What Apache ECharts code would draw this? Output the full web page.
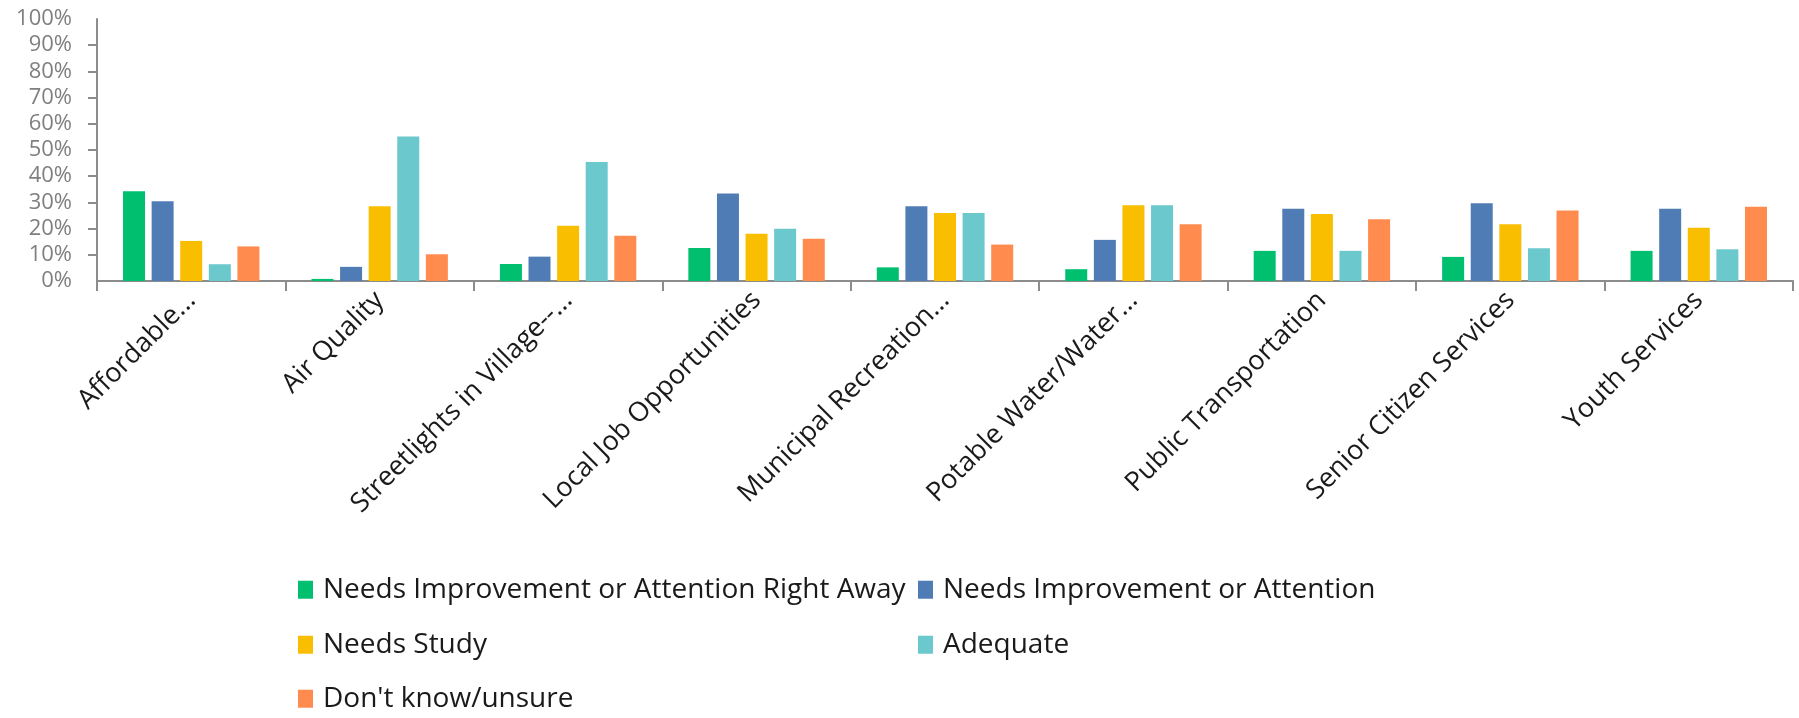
<title>survey chart</title>
<script src="https://cdn.jsdelivr.net/npm/echarts@6/dist/echarts.min.js"></script>
<style>
  html,body{margin:0;padding:0;background:#fff;}
  #main{width:1799px;height:718px;}
</style>
<div id="main"></div>
<script>
  var categories = ['Affordable...', 'Air Quality', 'Streetlights in Village--...', 'Local Job Opportunities',
    'Municipal Recreation...', 'Potable Water/Water...', 'Public Transportation', 'Senior Citizen Services', 'Youth Services'];
  var seriesNames = ['Needs Improvement or Attention Right Away', 'Needs Improvement or Attention',
    'Needs Study', 'Adequate', "Don't know/unsure"];
  var colors = ['#00BF6F', '#507CB6', '#F9BE00', '#6BC8CD', '#FF8B4F'];
  // percent values
  var rightAway = [34.3, 0.8, 6.5, 12.6, 5.2, 4.5, 11.5, 9.2, 11.5];
  var attention = [30.4, 5.4, 9.3, 33.4, 28.5, 15.7, 27.6, 29.7, 27.6];
  var study     = [15.3, 28.5, 21.1, 18.0, 26.0, 28.9, 25.6, 21.7, 20.3];
  var adequate  = [6.4, 55.2, 45.4, 19.9, 26.0, 28.9, 11.5, 12.5, 12.1];
  var unsure    = [13.2, 10.2, 17.3, 16.1, 13.9, 21.7, 23.6, 26.9, 28.3];
  var yTicks = [0, 10, 20, 30, 40, 50, 60, 70, 80, 90, 100];

  var values = [rightAway, attention, study, adequate, unsure];
  var font = 'Open Sans';
  var yMin = yTicks[0], yMax = yTicks[yTicks.length - 1];

  // legend slots: [left, top]
  var legendPos = [[293, 562], [913, 562], [293, 617], [913, 617], [293, 671]];

  var yLabelStyle = {
    formatter: '{value}%', margin: 25,
    fontFamily: font, fontSize: 22, color: '#7f7f7f'
  };

  var chart = echarts.init(document.getElementById('main'));
  var option = {
    animation: false,
    color: colors,
    grid: {left: 97, right: 6, top: 19, bottom: 437},
    legend: seriesNames.map(function (n, i) {
      return {
        data: [n],
        left: legendPos[i][0],
        top: legendPos[i][1],
        icon: 'rect',
        itemWidth: 15,
        itemHeight: 18,
        selectedMode: false,
        textStyle: {fontFamily: font, fontSize: 28, color: '#1a1a1a', padding: [0, 0, 0, 5]}
      };
    }),
    xAxis: {
      type: 'category',
      data: categories,
      axisLine: {lineStyle: {color: '#8c8c8c', width: 2}},
      axisTick: {show: true, length: 10, lineStyle: {color: '#8c8c8c', width: 2}},
      axisLabel: {
        interval: 0, rotate: 45, margin: 15,
        fontFamily: font, fontSize: 27, color: '#1a1a1a'
      }
    },
    yAxis: [
      {
        // main axis: line, ticks, inner labels
        type: 'value', min: yMin, max: yMax, interval: 10,
        splitLine: {show: false},
        axisLine: {show: true, lineStyle: {color: '#8c8c8c', width: 2}},
        axisTick: {show: true, length: 9, lineStyle: {color: '#8c8c8c', width: 2}},
        axisLabel: Object.assign({showMinLabel: false, showMaxLabel: false}, yLabelStyle)
      },
      {
        // overlay axis: only the end labels (0% / 100%)
        type: 'value', position: 'left', min: yMin, max: yMax, interval: 10,
        splitLine: {show: false},
        axisLine: {show: false},
        axisTick: {show: false},
        axisLabel: Object.assign({}, yLabelStyle, {
          showMinLabel: true, showMaxLabel: true,
          formatter: function (v) { return (v === yMin || v === yMax) ? v + '%' : ''; }
        })
      }
    ],
    series: seriesNames.map(function (n, i) {
      return {
        name: n,
        type: 'bar',
        data: values[i],
        barWidth: 22,
        barGap: '30%',
        itemStyle: {color: colors[i]}
      };
    })
  };
  chart.setOption(option);
</script>
